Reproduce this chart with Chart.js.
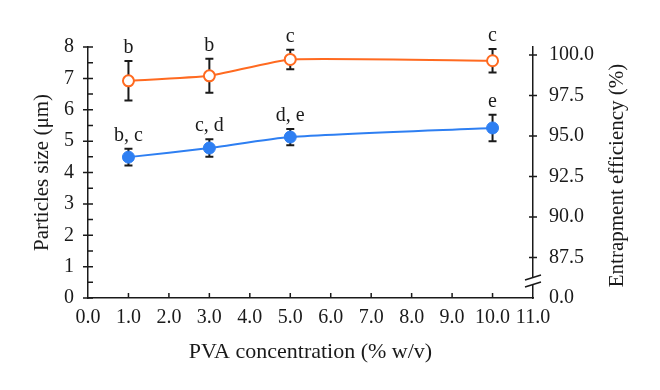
<!DOCTYPE html>
<html>
<head>
<meta charset="utf-8">
<script src="https://cdn.jsdelivr.net/npm/chart.js@4.4.1/dist/chart.umd.min.js"></script>
<style>
    body { margin: 0; background: #fff; }
    canvas { display: block; }
</style>
</head>
<body>
<canvas id="chart" width="660" height="390"></canvas>
<script>
// PVA concentration (% w/v)
const concentrations = [1, 3, 5, 10];

// particle size (um), left axis
const sizeMean = [4.49, 4.78, 5.13, 5.42];
const sizeErr = [0.27, 0.28, 0.26, 0.42];
const sizeLetters = ['b, c', 'c, d', 'd, e', 'e'];

// entrapment efficiency (%), right axis
const efficiencyMean = [98.41, 98.72, 99.73, 99.65];
const efficiencyErr = [1.22, 1.05, 0.6, 0.73];
const efficiencyLetters = ['b', 'b', 'c', 'c'];

const xTicks = [0, 1, 2, 3, 4, 5, 6, 7, 8, 9, 10, 11];
const leftTicks = [0, 1, 2, 3, 4, 5, 6, 7, 8];
const rightTicks = [85, 87.5, 90, 92.5, 95, 97.5, 100];
const rightTickLabels = ['0.0', '87.5', '90.0', '92.5', '95.0', '97.5', '100.0'];
const rightTitle = 'Entrapment efficiency (%)';

const ORANGE = '#ff6a20';
const BLUE = '#2e7ff2';
const INK = '#1a1a1a';
const serif = "'Liberation Serif', 'DejaVu Serif', serif";

// error bars + letters drawn through the scales
const errorBars = {
    id: 'errorBars',
    beforeDatasetsDraw(chart) {
        const ctx = chart.ctx;
        chart.data.datasets.forEach(ds => {
            const ys = chart.scales[ds.yAxisID];
            const xs = chart.scales.x;
            ctx.save();
            ctx.strokeStyle = INK;
            ctx.lineWidth = 2;
            ds.data.forEach((p, i) => {
                const x = xs.getPixelForValue(p.x);
                const top = ys.getPixelForValue(p.y + ds.errors[i]);
                const bot = ys.getPixelForValue(p.y - ds.errors[i]);
                ctx.beginPath();
                ctx.moveTo(x, top); ctx.lineTo(x, bot);
                ctx.moveTo(x - 4, top); ctx.lineTo(x + 4, top);
                ctx.moveTo(x - 4, bot); ctx.lineTo(x + 4, bot);
                ctx.stroke();
            });
            ctx.restore();
        });
    },
    afterDatasetsDraw(chart) {
        const ctx = chart.ctx;
        ctx.save();
        ctx.fillStyle = INK;
        ctx.font = `20px ${serif}`;
        ctx.textAlign = 'center';
        ctx.textBaseline = 'alphabetic';
        chart.data.datasets.forEach(ds => {
            const ys = chart.scales[ds.yAxisID];
            ds.data.forEach((p, i) => {
                const x = chart.scales.x.getPixelForValue(p.x);
                const top = ys.getPixelForValue(p.y + ds.errors[i]);
                ctx.fillText(ds.letters[i], x, top - 8);
            });
        });
        ctx.restore();
    }
};

// tick marks (crossing / inside), the axis break and the right title
const axisMarks = {
    id: 'axisMarks',
    afterDraw(chart) {
        const ctx = chart.ctx;
        const {x, y, y1} = chart.scales;
        const area = chart.chartArea;
        ctx.save();
        ctx.strokeStyle = INK;
        ctx.lineWidth = 1.5;
        ctx.beginPath();
        for (let v = 0; v <= 8; v += 0.5) {
            const py = y.getPixelForValue(v);
            if (v % 1 === 0) { ctx.moveTo(area.left - 5, py); ctx.lineTo(area.left + 5, py); }
            else { ctx.moveTo(area.left, py); ctx.lineTo(area.left + 5, py); }
        }
        rightTicks.forEach(v => {
            if (v === 85) return;
            const py = y1.getPixelForValue(v);
            ctx.moveTo(area.right - 4, py); ctx.lineTo(area.right + 4, py);
        });
        xTicks.forEach(v => {
            if (v === 0 || v === 11) return;
            const px = x.getPixelForValue(v);
            ctx.moveTo(px, area.bottom); ctx.lineTo(px, area.bottom - 5);
        });
        ctx.stroke();

        // break on right axis
        const by = y1.getPixelForValue(86.05);
        ctx.fillStyle = '#fff';
        ctx.fillRect(area.right - 2, by - 3, 4, 6);
        ctx.lineWidth = 1.5;
        ctx.beginPath();
        ctx.moveTo(area.right - 8, by - 1); ctx.lineTo(area.right + 8, by - 6);
        ctx.moveTo(area.right - 8, by + 6); ctx.lineTo(area.right + 8, by + 1);
        ctx.stroke();

        // right title reads bottom-to-top like the left one
        ctx.translate(y1.right - 43, (area.top + area.bottom) / 2 + 3);
        ctx.rotate(-Math.PI / 2);
        ctx.fillStyle = INK;
        ctx.font = `21px ${serif}`;
        ctx.textAlign = 'center';
        ctx.textBaseline = 'middle';
        ctx.fillText(rightTitle, 0, 0);
        ctx.restore();
    }
};

const tickFont = { family: serif, size: 20 };
const titleFont = { family: serif, size: 21 };

new Chart(document.getElementById('chart'), {
    type: 'line',
    data: {
        datasets: [
            {
                label: 'Entrapment efficiency',
                data: concentrations.map((c, i) => ({ x: c, y: efficiencyMean[i] })),
                errors: efficiencyErr,
                letters: efficiencyLetters,
                yAxisID: 'y1',
                borderColor: ORANGE,
                borderWidth: 2,
                pointBackgroundColor: '#fff',
                pointBorderColor: ORANGE,
                pointBorderWidth: 2,
                pointRadius: 5.5,
                tension: 0.15,
                clip: false
            },
            {
                label: 'Particles size',
                data: concentrations.map((c, i) => ({ x: c, y: sizeMean[i] })),
                errors: sizeErr,
                letters: sizeLetters,
                yAxisID: 'y',
                borderColor: BLUE,
                borderWidth: 2,
                pointBackgroundColor: BLUE,
                pointBorderColor: BLUE,
                pointBorderWidth: 1,
                pointRadius: 6,
                tension: 0.2,
                clip: false
            }
        ]
    },
    options: {
        responsive: false,
        animation: false,
        devicePixelRatio: 1,
        layout: { padding: { top: 47, left: 0, right: 0, bottom: 0 } },
        plugins: { legend: { display: false }, tooltip: { enabled: false } },
        scales: {
            x: {
                type: 'linear',
                min: 0,
                max: 11,
                afterBuildTicks: s => { s.ticks = xTicks.map(v => ({ value: v })); },
                afterFit: s => { s.height = 92; },
                grid: { display: false, drawTicks: false },
                border: { color: INK, width: 1.5 },
                ticks: { color: INK, font: tickFont, padding: 8, maxRotation: 0, autoSkip: false,
                    callback: v => v.toFixed(1) },
                title: { display: true, text: 'PVA concentration (% w/v)', color: INK,
                    font: { family: serif, size: 22 }, padding: { top: 0, bottom: 25 } }
            },
            y: {
                position: 'left',
                min: 0,
                max: 8,
                afterBuildTicks: s => { s.ticks = leftTicks.map(v => ({ value: v })); },
                afterFit: s => { s.width = 88; },
                grid: { display: false, drawTicks: false },
                border: { color: INK, width: 1.5 },
                ticks: { color: INK, font: tickFont, padding: 14 },
                title: { display: true, text: 'Particles size (μm)', color: INK, font: titleFont,
                    padding: { top: 30, bottom: 0 } }
            },
            y1: {
                position: 'right',
                min: 85,
                max: 100.5,
                afterBuildTicks: s => { s.ticks = rightTicks.map(v => ({ value: v })); },
                afterFit: s => { s.width = 127; },
                grid: { display: false, drawTicks: false },
                border: { color: INK, width: 1.5 },
                ticks: { color: INK, font: tickFont, padding: 16,
                    callback: v => rightTickLabels[rightTicks.indexOf(v)] },
                title: { display: false }
            }
        }
    },
    plugins: [errorBars, axisMarks]
});
</script>
</body>
</html>
